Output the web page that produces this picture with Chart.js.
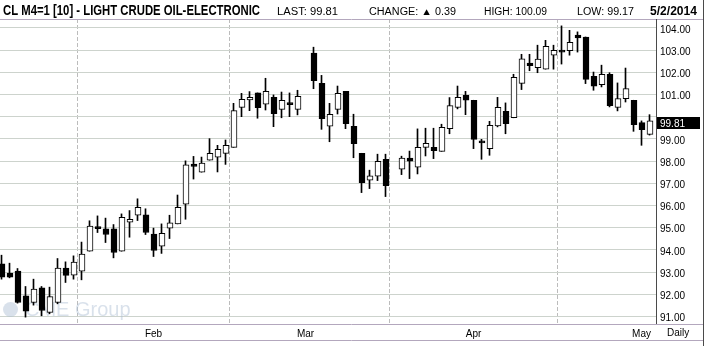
<!DOCTYPE html>
<html><head><meta charset="utf-8">
<script src="https://cdn.jsdelivr.net/npm/chart.js@4.4.1/dist/chart.umd.min.js"></script>
<style>html,body{margin:0;padding:0;background:#fff;overflow:hidden}canvas{display:block}</style>
</head><body><canvas id="c" width="708" height="346"></canvas>
<script>
// slot index per trading day (null = empty slot)
const opens  = [93.37,92.95,93.04,91.93,91.63,92.29,91.18,91.63,93.18,92.86,93.04,93.94,95.04,94.95,94.95,93.94,95.25,95.56,95.58,94.71,94.17,94.98,95.17,96.06,97.86,97.50,98.04,98.18,98.35,98.62,100.42,100.75,101.07,100.56,100.87,100.33,100.62,100.33,null,102.86,101.50,99.57,100.33,101.14,99.57,98.35,97.14,97.32,98.08,null,97.63,98.14,97.72,98.62,98.62,98.44,99.46,100.42,100.96,100.74,98.91,98.56,99.58,100.24,99.95,101.50,102.41,102.21,102.14,102.77,102.99,102.97,103.67,103.59,101.82,101.44,101.91,100.42,100.81,100.74,99.73,99.20];
const highs  = [93.76,93.40,93.16,92.35,92.68,92.35,92.32,93.61,93.46,93.73,94.35,95.31,95.53,95.43,95.14,95.62,95.77,96.30,95.85,94.98,95.17,95.56,96.47,98.01,98.21,98.18,99.01,98.71,98.95,100.60,101.05,101.13,101.07,101.73,100.98,101.11,101.07,101.19,null,103.13,101.86,100.60,101.38,101.14,100.11,98.35,97.59,98.31,98.31,null,98.22,98.45,99.45,99.48,99.48,99.66,100.86,101.38,101.14,100.74,98.98,99.79,100.87,100.62,101.91,102.81,102.81,103.22,103.44,103.22,104.09,103.89,103.82,103.59,102.01,102.32,101.98,101.52,102.19,100.74,99.81,100.09];
const lows   = [92.68,92.74,91.60,90.97,91.51,91.03,91.12,91.57,92.53,92.68,92.65,93.94,94.78,94.33,93.64,93.94,94.57,95.32,94.69,93.70,93.84,94.51,95.17,95.38,97.19,97.50,98.04,97.51,97.85,98.62,100.00,100.27,99.93,100.30,99.55,99.95,100.00,100.08,null,101.26,99.43,98.87,100.12,99.46,98.15,96.58,96.76,97.12,96.40,null,97.39,97.21,97.42,98.23,98.11,98.44,99.23,100.35,100.09,98.56,98.08,98.26,99.54,99.23,99.95,101.22,102.07,101.98,102.14,102.14,102.37,102.77,102.91,101.49,101.19,101.34,100.44,100.26,100.66,99.34,98.71,99.17];
const closes = [92.77,92.77,91.63,91.24,92.23,91.27,91.89,93.18,92.85,93.45,93.81,95.07,94.96,94.69,93.88,95.47,95.38,95.92,94.78,93.97,94.75,95.22,95.92,97.83,97.76,97.91,98.35,98.53,98.71,100.27,100.78,100.87,100.41,101.14,100.14,100.74,100.54,100.92,null,101.62,99.91,100.11,101.05,99.68,98.78,97.03,97.34,97.99,96.89,null,98.13,97.99,98.62,98.80,98.47,99.52,100.50,100.87,100.74,98.98,98.82,99.61,100.42,99.68,101.77,102.61,102.30,102.59,103.17,102.99,102.91,103.35,103.55,101.68,101.37,101.91,100.50,100.81,101.26,99.64,99.42,99.81];
const monthLabels = ['Feb','Mar','Apr','May'];
const monthSlots  = [19, 38, 59, 80];
const yTickValues = [91,92,93,94,95,96,97,98,99,100,101,102,103,104];
const lastPrice = 99.81;

const FONT = '"Liberation Sans", Arial, sans-serif';
const HALF_PX = 1 / 16; // half a pixel in slot units (8 px per slot)
const bodies = [], wicks = [], bodyColors = [];
for (let i = 0; i < opens.length; i++) {
  if (opens[i] === null) continue;
  bodies.push({x: i, y: [opens[i], closes[i]]});
  wicks.push({x: i - HALF_PX, y: [lows[i], highs[i]]});
  bodyColors.push(closes[i] >= opens[i] ? '#ffffff' : '#000000');
}

const X_MIN = -0.25, X_MAX = X_MIN + 656 / 8;

function fitText(c, txt, x, y, w, font) {
  c.font = font;
  const m = c.measureText(txt).width;
  c.save(); c.translate(x, y); c.scale(w / m, 1); c.fillText(txt, 0, 0); c.restore();
}

const chrome = {
  id: 'chrome',
  beforeDatasetsDraw(chart) {
    const c = chart.ctx;
    c.save();
    c.fillStyle = 'rgba(170,188,210,0.45)';
    c.beginPath(); c.arc(10.5, 309.5, 7.5, 0, Math.PI * 2); c.fill();
    c.font = '20px ' + FONT;
    c.textBaseline = 'alphabetic';
    c.fillText('CME Group', 25, 316);
    c.restore();
  },
  afterDraw(chart) {
    const c = chart.ctx, ys = chart.scales.y, a = chart.chartArea;
    c.save();
    c.lineWidth = 1;
    c.strokeStyle = '#b3a7bd';
    c.beginPath(); c.moveTo(0, 19.5); c.lineTo(703, 19.5); c.stroke();
    c.beginPath(); c.moveTo(0, a.bottom + 0.5); c.lineTo(703, a.bottom + 0.5); c.stroke();
    c.beginPath(); c.moveTo(0, 340.5); c.lineTo(703, 340.5); c.stroke();
    c.strokeStyle = '#4a4a4a';
    c.beginPath(); c.moveTo(a.right + 0.5, 19); c.lineTo(a.right + 0.5, a.bottom); c.stroke();
    c.beginPath(); c.moveTo(703.5, 0); c.lineTo(703.5, 346); c.stroke();
    // header
    c.fillStyle = '#000';
    c.textBaseline = 'alphabetic';
    fitText(c, 'CL M4=1 [10] - LIGHT CRUDE OIL-ELECTRONIC', 3, 15, 257, 'bold 14px ' + FONT);
    fitText(c, 'LAST: 99.81', 277, 15, 61, '10px ' + FONT);
    fitText(c, 'CHANGE: \u25B2 0.39', 369, 15, 87, '10px ' + FONT);
    fitText(c, 'HIGH: 100.09', 484, 15, 63, '10px ' + FONT);
    fitText(c, 'LOW: 99.17', 577, 15, 57, '10px ' + FONT);
    fitText(c, '5/2/2014', 650, 15, 47, 'bold 13px ' + FONT);
    // last price tag
    const py = Math.round(ys.getPixelForValue(lastPrice));
    c.fillStyle = '#000';
    c.fillRect(657, py - 4, 43, 12);
    c.fillStyle = '#fff';
    c.font = '10px ' + FONT;
    c.textBaseline = 'alphabetic';
    c.fillText(lastPrice.toFixed(2), 660, py + 6);
    // Daily label
    c.fillStyle = '#000';
    c.textBaseline = 'middle';
    c.fillText('Daily', 667, 333);
    c.restore();
  }
};

new Chart(document.getElementById('c'), {
  type: 'bar',
  data: {
    datasets: [
      {label: 'body', data: bodies, backgroundColor: bodyColors, borderColor: '#000', borderWidth: 1,
       borderSkipped: false, barThickness: 6, grouped: false, order: 0, minBarLength: 2},
      {label: 'wick', data: wicks, backgroundColor: '#000', borderWidth: 0,
       barThickness: 1, grouped: false, order: 1}
    ]
  },
  options: {
    responsive: false, animation: false, events: [],
    layout: {padding: {top: 19, left: 0, right: 5, bottom: 6}},
    plugins: {legend: {display: false}, tooltip: {enabled: false}},
    scales: {
      x: {
        type: 'linear', min: X_MIN, max: X_MAX, offset: false,
        afterBuildTicks: s => { s.ticks = monthSlots.map(v => ({value: v - HALF_PX})); },
        afterFit: s => { s.height = 16; },
        ticks: {callback: (v, i) => monthLabels[i], color: '#000', font: {family: FONT, size: 10},
                padding: 4, maxRotation: 0, autoSkip: false},
        grid: {color: '#bcbcbc', drawTicks: false, lineWidth: 1},
        border: {display: false, dash: [4, 2]}
      },
      y: {
        position: 'right', min: 90.66, max: 104.4,
        afterBuildTicks: s => { s.ticks = yTickValues.map(v => ({value: v})); },
        afterFit: s => { s.width = 47; },
        ticks: {callback: v => (Math.abs(v - lastPrice) < 0.45 ? '' : v.toFixed(2)), color: '#000',
                font: {family: FONT, size: 10}, padding: 4, labelOffset: 2},
        grid: {color: '#cdd3cd', drawTicks: false, lineWidth: 1},
        border: {display: false}
      }
    }
  },
  plugins: [chrome]
});
</script>
</body></html>
